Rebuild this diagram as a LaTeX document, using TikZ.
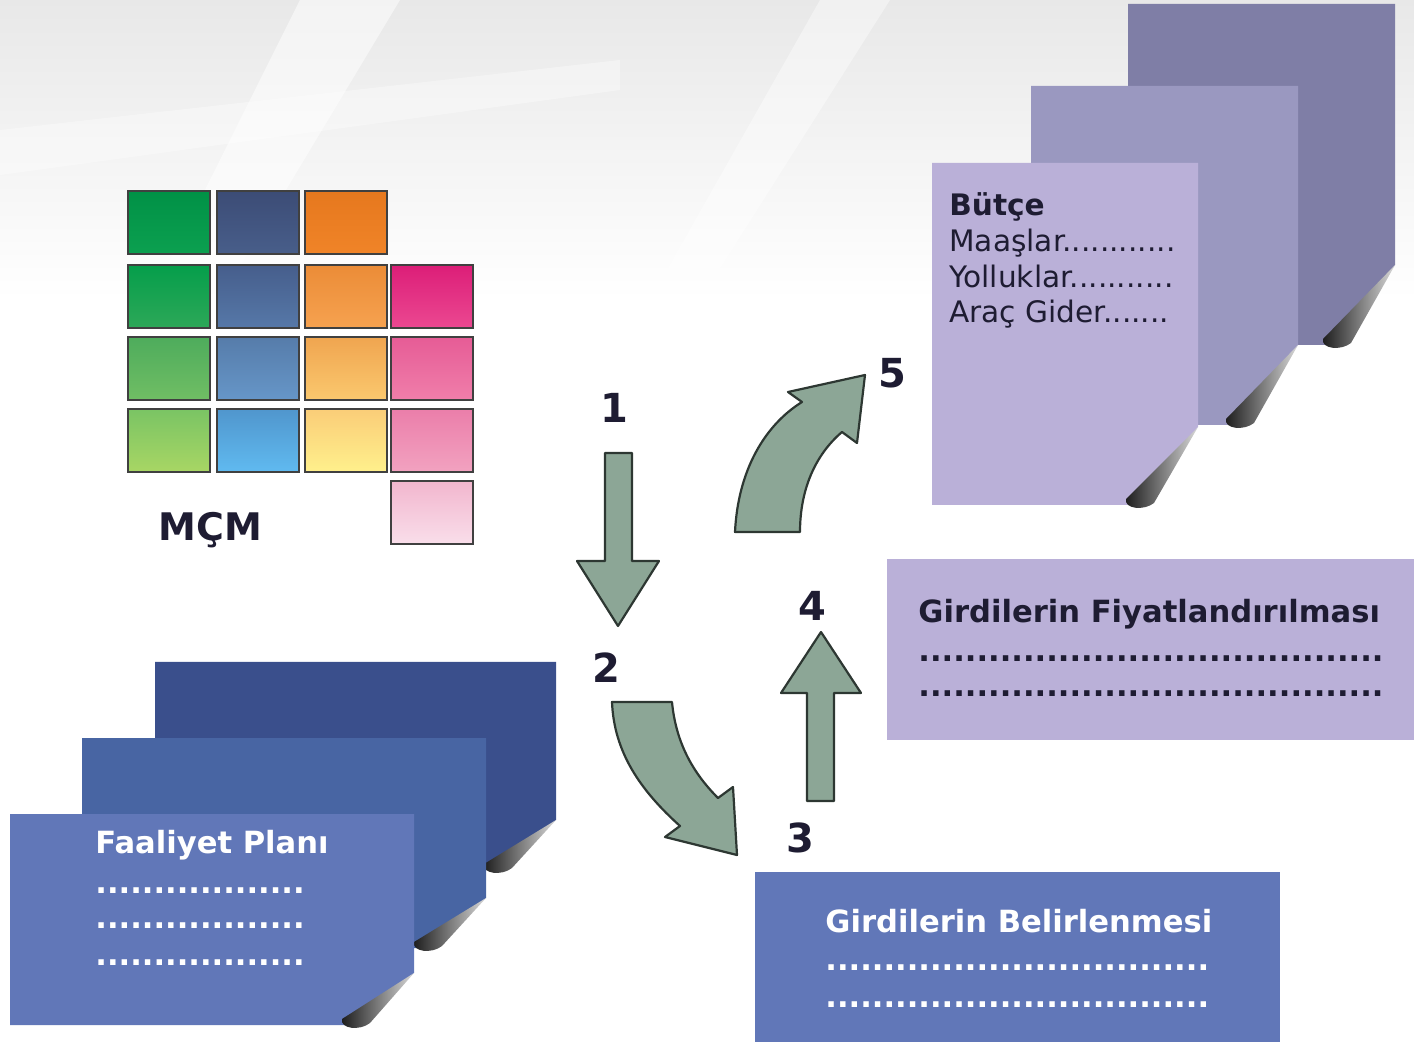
\documentclass[tikz,border=0pt]{standalone}
\usepackage{fontspec}
\setmainfont{DejaVu Sans}

\definecolor{inkdark}{RGB}{30,28,50}
\definecolor{arrowfill}{RGB}{140,166,150}
\definecolor{arrowline}{RGB}{45,55,50}
\definecolor{lilacA}{RGB}{127,126,166}
\definecolor{lilacB}{RGB}{154,152,192}
\definecolor{lilacC}{RGB}{186,176,216}
\definecolor{blueA}{RGB}{58,79,140}
\definecolor{blueB}{RGB}{72,101,163}
\definecolor{blueC}{RGB}{97,119,184}
% matrix cells, top and bottom tone
\definecolor{ga1}{RGB}{0,145,70}    \definecolor{gb1}{RGB}{12,160,80}
\definecolor{ga2}{RGB}{5,158,75}    \definecolor{gb2}{RGB}{45,168,88}
\definecolor{ga3}{RGB}{78,172,92}   \definecolor{gb3}{RGB}{112,190,100}
\definecolor{ga4}{RGB}{122,196,100} \definecolor{gb4}{RGB}{168,214,100}
\definecolor{ba1}{RGB}{60,76,118}   \definecolor{bb1}{RGB}{72,94,138}
\definecolor{ba2}{RGB}{70,94,140}   \definecolor{bb2}{RGB}{86,120,168}
\definecolor{ba3}{RGB}{86,124,170}  \definecolor{bb3}{RGB}{102,150,200}
\definecolor{ba4}{RGB}{80,150,205}  \definecolor{bb4}{RGB}{96,186,240}
\definecolor{oa1}{RGB}{230,120,30}  \definecolor{ob1}{RGB}{240,132,40}
\definecolor{oa2}{RGB}{235,140,55}  \definecolor{ob2}{RGB}{246,162,80}
\definecolor{oa3}{RGB}{240,165,80}  \definecolor{ob3}{RGB}{250,200,110}
\definecolor{oa4}{RGB}{250,205,120} \definecolor{ob4}{RGB}{255,240,140}
\definecolor{pa2}{RGB}{220,30,120}  \definecolor{pb2}{RGB}{235,72,145}
\definecolor{pa3}{RGB}{230,92,150}  \definecolor{pb3}{RGB}{240,126,170}
\definecolor{pa4}{RGB}{235,126,170} \definecolor{pb4}{RGB}{242,162,192}
\definecolor{pa5}{RGB}{242,182,206} \definecolor{pb5}{RGB}{249,222,234}

% sheet with a curled corner: colour, x0, y0, x1, y1, cut x, cut y
\newcommand{\sheet}[7]{%
  \fill[#1] (#2,#3) -- (#4,#3) -- (#4,{#5-#7}) -- ({#4-#6},#5) -- (#2,#5) -- cycle;
  \shade[left color=black!90, right color=gray!30]
    (#4,{#5-#7}) -- ({#4-#6-10},{#5-6}) .. controls ({#4-#6-12},{#5+4}) and ({#4-#6+8},{#5+6}) .. ({#4-#6+18},{#5-2}) -- cycle;
}

\begin{document}
\begin{tikzpicture}[x=0.5pt, y=-0.5pt,
  boxtext/.style={anchor=base west, inner sep=0pt, font=\fontsize{15.3}{18}\selectfont\bfseries},
  budget/.style={anchor=base west, inner sep=0pt, text=inkdark, font=\fontsize{14.8}{17}\selectfont},
  stepnum/.style={inner sep=0pt, text=inkdark, font=\fontsize{20}{24}\selectfont\bfseries},
  bigarrow/.style={fill=arrowfill, draw=arrowline, line width=1.1pt, line join=round},
  cell/.style={draw=black!75, line width=1pt}]
\useasboundingbox (0,0) rectangle (1414,1042);

\shade[top color=black!9, bottom color=white] (0,0) rectangle (1414,300);
\fill[white, opacity=.5] (300,0) -- (400,0) -- (220,300) -- (150,300) -- cycle;
\fill[white, opacity=.4] (820,0) -- (890,0) -- (700,300) -- (650,300) -- cycle;
\fill[white, opacity=.35] (0,130) -- (620,60) -- (620,90) -- (0,175) -- cycle;

\foreach \x/\y/\ct/\cb in {128/191/ga1/gb1, 128/265/ga2/gb2, 128/337/ga3/gb3, 128/409/ga4/gb4,
                           217/191/ba1/bb1, 217/265/ba2/bb2, 217/337/ba3/bb3, 217/409/ba4/bb4,
                           305/191/oa1/ob1, 305/265/oa2/ob2, 305/337/oa3/ob3, 305/409/oa4/ob4,
                           391/265/pa2/pb2, 391/337/pa3/pb3, 391/409/pa4/pb4, 391/481/pa5/pb5} {
	\shade[cell, top color=\ct, bottom color=\cb] (\x,\y) rectangle ++(82,63);
}
\node[anchor=base west, inner sep=0pt, text=inkdark, font=\fontsize{19}{22}\selectfont\bfseries] (mcm) at (158,541) {MÇM};

\sheet{lilacA}{1128}{4}{1395}{345}{62}{80}
\sheet{lilacB}{1031}{86}{1298}{425}{62}{80}
\sheet{lilacC}{932}{163}{1198}{505}{62}{78}

\node[budget, font=\fontsize{14.8}{17}\selectfont\bfseries] (butce) at (949,216) {Bütçe};
\node[budget] (maas) at (949,252) {Maaşlar............};
\node[budget] (yolluk) at (949,288) {Yolluklar...........};
\node[budget] (arac) at (949,323) {Araç Gider.......};

\sheet{blueA}{155}{662}{556}{870}{62}{50}
\sheet{blueB}{82}{738}{486}{948}{62}{50}
\sheet{blueC}{10}{814}{414}{1025}{62}{52}

\node[boxtext, text=white] (faaliyet) at (95,853) {Faaliyet Planı};
\node[boxtext, text=white] (faaliyeta) at (95,893) {..................};
\node[boxtext, text=white] (faaliyetb) at (95,928) {..................};
\node[boxtext, text=white] (faaliyetc) at (95,965) {..................};

\fill[lilacC] (887,559) rectangle (1414,740);
\node[boxtext, text=inkdark] (fiyat) at (918,623) {Girdilerin Fiyatlandırılması};
\node[boxtext, text=inkdark] (fiyata) at (918,662) {........................................};
\node[boxtext, text=inkdark] (fiyatb) at (918,697) {........................................};

\fill[blueC] (755,872) rectangle (1280,1042);
\node[boxtext, text=white] (girdi) at (825,932) {Girdilerin Belirlenmesi};
\node[boxtext, text=white] (girdia) at (825,970) {.................................};
\node[boxtext, text=white] (girdib) at (825,1007) {.................................};

\draw[bigarrow] (605,453) -- (632,453) -- (632,561) -- (659,561) -- (618,626) -- (577,561) -- (605,561) -- cycle;
\draw[bigarrow] (612,702) -- (672,702) .. controls (676,745) and (695,775) .. (718,798)
  -- (733,787) -- (737,855) -- (665,837) -- (680,826) .. controls (640,790) and (614,752) .. (612,702) -- cycle;
\draw[bigarrow] (807,801) -- (834,801) -- (834,693) -- (861,693) -- (821,632) -- (781,693) -- (807,693) -- cycle;
\draw[bigarrow] (735,532) .. controls (738,470) and (765,425) .. (802,402) -- (788,392) -- (865,375)
  -- (857,443) -- (842,432) .. controls (815,455) and (800,490) .. (800,532) -- cycle;

\node[stepnum] (n1) at (614,408) {1};
\node[stepnum] (n2) at (606,668) {2};
\node[stepnum] (n3) at (800,838) {3};
\node[stepnum] (n4) at (812,606) {4};
\node[stepnum] (n5) at (892,373) {5};
\end{tikzpicture}
\end{document}
